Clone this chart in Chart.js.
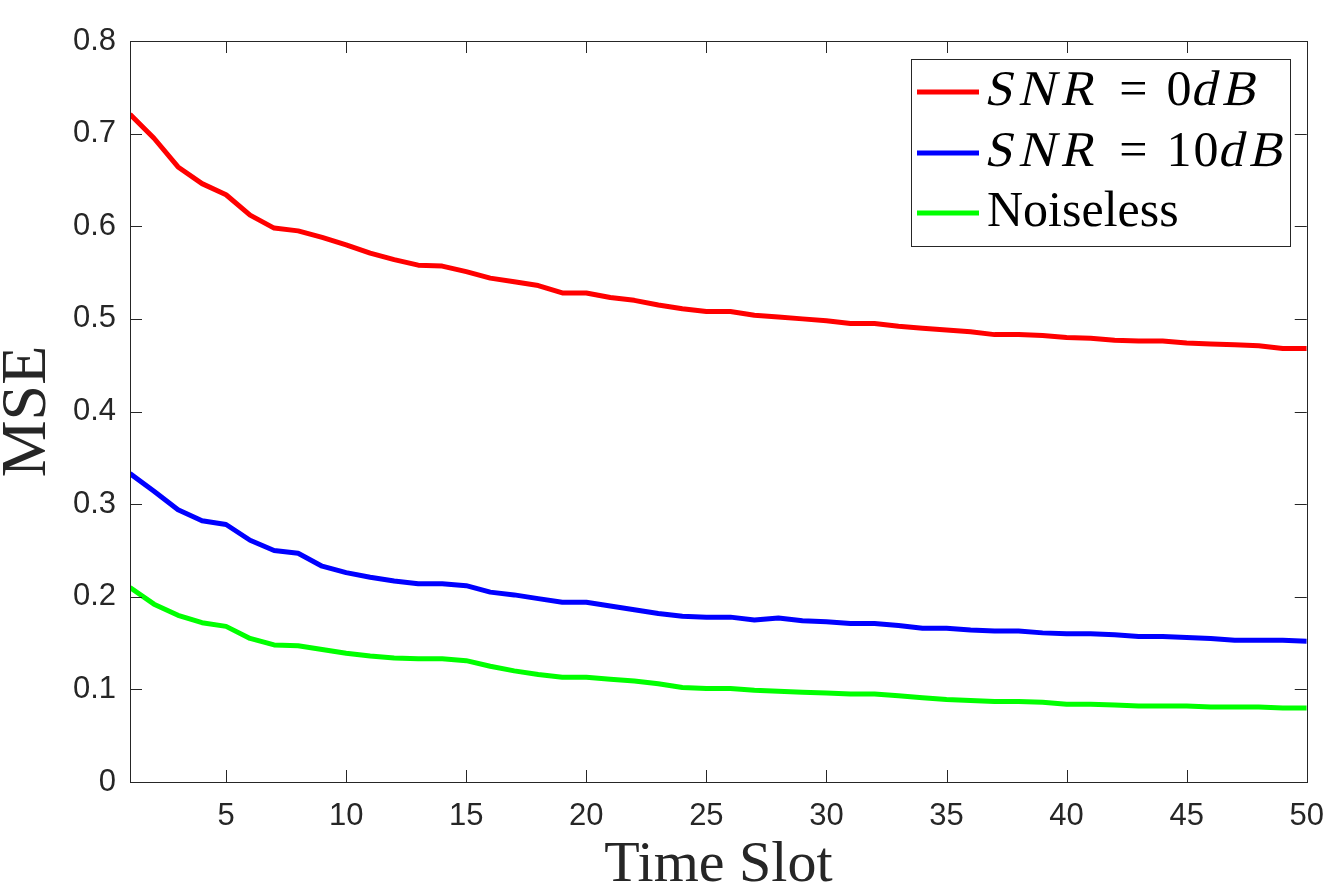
<!DOCTYPE html>
<html>
<head>
<meta charset="utf-8">
<title>MSE vs Time Slot</title>
<script src="https://cdn.jsdelivr.net/npm/chart.js@4/dist/chart.umd.min.js"></script>
<style>
  html, body { margin: 0; padding: 0; background: #ffffff; }
  canvas { display: block; }
</style>
</head>
<body>
<canvas id="mseChart" width="1340" height="888"></canvas>
<script>
// Chart data
const timeSlots = Array.from({ length: 50 }, (_, i) => i + 1);
const xTicks = [5, 10, 15, 20, 25, 30, 35, 40, 45, 50];
const yTicks = [0, 0.1, 0.2, 0.3, 0.4, 0.5, 0.6, 0.7, 0.8];
const seriesLabels = ['SNR = 0dB', 'SNR = 10dB', 'Noiseless'];

const snr0 = [0.721, 0.695, 0.664, 0.646, 0.634, 0.612, 0.598, 0.595, 0.588, 0.580,
              0.571, 0.564, 0.558, 0.557, 0.551, 0.544, 0.540, 0.536, 0.528, 0.528,
              0.523, 0.520, 0.515, 0.511, 0.508, 0.508, 0.504, 0.502, 0.500, 0.498,
              0.495, 0.495, 0.492, 0.490, 0.488, 0.486, 0.483, 0.483, 0.482, 0.480,
              0.479, 0.477, 0.476, 0.476, 0.474, 0.473, 0.472, 0.471, 0.468, 0.468];
const snr10 = [0.333, 0.314, 0.294, 0.282, 0.278, 0.261, 0.250, 0.247, 0.233, 0.226,
               0.221, 0.217, 0.214, 0.214, 0.212, 0.205, 0.202, 0.198, 0.194, 0.194,
               0.190, 0.186, 0.182, 0.179, 0.178, 0.178, 0.175, 0.177, 0.174, 0.173,
               0.171, 0.171, 0.169, 0.166, 0.166, 0.164, 0.163, 0.163, 0.161, 0.160,
               0.160, 0.159, 0.157, 0.157, 0.156, 0.155, 0.153, 0.153, 0.153, 0.152];
const noiseless = [0.210, 0.192, 0.180, 0.172, 0.168, 0.155, 0.148, 0.147, 0.143, 0.139,
                   0.136, 0.134, 0.133, 0.133, 0.131, 0.125, 0.120, 0.116, 0.113, 0.113,
                   0.111, 0.109, 0.106, 0.102, 0.101, 0.101, 0.099, 0.098, 0.097, 0.096,
                   0.095, 0.095, 0.093, 0.091, 0.089, 0.088, 0.087, 0.087, 0.086, 0.084,
                   0.084, 0.083, 0.082, 0.082, 0.082, 0.081, 0.081, 0.081, 0.080, 0.080];

const axisColor = '#262626';

// Turn a series into {x, y} points for the linear x axis
function toPoints(values) {
    return values.map((v, i) => ({ x: timeSlots[i], y: v }));
}

// MATLAB-style box with inward ticks on all four sides
const matlabBox = {
    id: 'matlabBox',
    afterDatasetsDraw(chart) {
        const { ctx, chartArea: a, scales } = chart;
        const len = 12;
        ctx.save();
        ctx.strokeStyle = axisColor;
        ctx.lineWidth = 1;
        ctx.beginPath();
        xTicks.forEach(v => {
            const px = Math.round(scales.x.getPixelForValue(v)) + 0.5;
            ctx.moveTo(px, a.bottom); ctx.lineTo(px, a.bottom - len);
            ctx.moveTo(px, a.top); ctx.lineTo(px, a.top + len);
        });
        yTicks.forEach(v => {
            const py = Math.round(scales.y.getPixelForValue(v)) + 0.5;
            ctx.moveTo(a.left, py); ctx.lineTo(a.left + len, py);
            ctx.moveTo(a.right, py); ctx.lineTo(a.right - len, py);
        });
        ctx.stroke();
        ctx.strokeRect(Math.round(a.left) + 0.5, Math.round(a.top) + 0.5,
                       Math.round(a.right - a.left), Math.round(a.bottom - a.top));
        ctx.restore();
    }
};

// Legend box in the top right; letters in the math labels are slanted like LaTeX math
const mathLegend = {
    id: 'mathLegend',
    afterDraw(chart) {
        const ctx = chart.ctx;
        const box = { left: 911, top: 59, right: 1290, bottom: 246 };
        const rowY = [92, 153, 213];
        ctx.save();
        ctx.fillStyle = '#ffffff';
        ctx.fillRect(box.left, box.top, box.right - box.left, box.bottom - box.top);
        ctx.strokeStyle = axisColor;
        ctx.lineWidth = 1;
        ctx.strokeRect(box.left + 0.5, box.top + 0.5, box.right - box.left, box.bottom - box.top);

        ctx.font = '50px "Liberation Serif", serif';
        ctx.textBaseline = 'middle';
        chart.data.datasets.forEach((ds, i) => {
            const y = rowY[i];
            ctx.strokeStyle = ds.borderColor;
            ctx.lineWidth = 5;
            ctx.beginPath();
            ctx.moveTo(917, y);
            ctx.lineTo(979, y);
            ctx.stroke();

            ctx.fillStyle = '#000000';
            const isMath = ds.label.includes('=');
            if (!isMath) {
                ctx.fillText(ds.label, 987, y);
                return;
            }
            let x = 987;
            for (const ch of ds.label) {
                if (ch === ' ') { x += 17; continue; }
                const w = ctx.measureText(ch).width;
                if (/[A-Za-z]/.test(ch)) {
                    // slanted glyph, sheared about the text's middle line
                    ctx.save();
                    ctx.translate(x, y);
                    ctx.transform(1, 0, -0.22, 1, 0, 0);
                    ctx.fillText(ch, 0, 0);
                    ctx.restore();
                    x += w + 6;
                } else {
                    ctx.fillText(ch, x, y);
                    x += w + 2;
                }
            }
        });
        ctx.restore();
    }
};

const ctx = document.getElementById('mseChart').getContext('2d');
new Chart(ctx, {
    type: 'line',
    data: {
        datasets: [
            { label: seriesLabels[0], data: toPoints(snr0), borderColor: '#ff0000' },
            { label: seriesLabels[1], data: toPoints(snr10), borderColor: '#0000ff' },
            { label: seriesLabels[2], data: toPoints(noiseless), borderColor: '#00ff00' }
        ]
    },
    options: {
        responsive: false,
        animation: false,
        devicePixelRatio: 1,
        layout: { padding: { top: 41, right: 33, left: 0, bottom: 0 } },
        elements: {
            line: { borderWidth: 5, tension: 0, fill: false, borderJoinStyle: 'round', borderCapStyle: 'butt' },
            point: { radius: 0, hoverRadius: 0 }
        },
        scales: {
            x: {
                type: 'linear',
                min: 1,
                max: 50,
                afterBuildTicks: scale => { scale.ticks = xTicks.map(v => ({ value: v })); },
                afterFit: scale => { scale.height = 106; },
                grid: { display: false, drawTicks: false },
                border: { display: false },
                ticks: {
                    color: axisColor,
                    padding: 16,
                    maxRotation: 0,
                    font: { family: '"Liberation Sans", Arial, sans-serif', size: 31 }
                },
                title: {
                    display: true,
                    text: 'Time Slot',
                    color: axisColor,
                    padding: 0,
                    font: { family: '"Liberation Serif", serif', size: 58, lineHeight: 0.78 }
                }
            },
            y: {
                min: 0,
                max: 0.8,
                afterBuildTicks: scale => { scale.ticks = yTicks.map(v => ({ value: v })); },
                afterFit: scale => { scale.width = 130; },
                grid: { display: false, drawTicks: false },
                border: { display: false },
                ticks: {
                    color: axisColor,
                    padding: 14,
                    font: { family: '"Liberation Sans", Arial, sans-serif', size: 31 }
                },
                title: {
                    display: true,
                    text: 'MSE',
                    color: axisColor,
                    padding: 0,
                    font: { family: '"Liberation Serif", serif', size: 64, lineHeight: 0.88 }
                }
            }
        },
        plugins: {
            legend: { display: false },
            tooltip: { enabled: false }
        }
    },
    plugins: [matlabBox, mathLegend]
});
</script>
</body>
</html>
